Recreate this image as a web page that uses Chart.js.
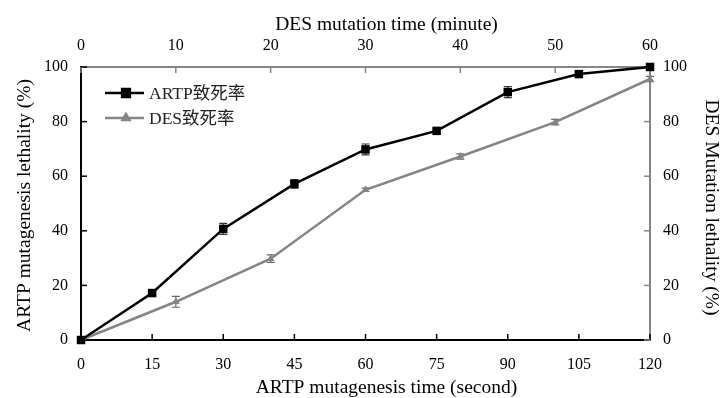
<!DOCTYPE html>
<html>
<head>
<meta charset="utf-8">
<script src="https://cdn.jsdelivr.net/npm/chart.js@4.4.1/dist/chart.umd.min.js"></script>
<style>
  body { margin: 0; background: #fff; }
  #wrap { width: 722px; height: 398px; }
</style>
</head>
<body>
<div id="wrap"><canvas id="lethalityChart"></canvas></div>
<script>
// ARTP: bottom axis (seconds), left axis
const artpTimes = [0, 15, 30, 45, 60, 75, 90, 105, 120];
const artpLethality = [0, 17.2, 40.7, 57.2, 69.8, 76.6, 90.8, 97.4, 100];
const artpError = [0, 0.8, 2, 1.6, 2, 0.6, 2, 1, 0.5];

// DES: top axis (minutes), right axis
const desTimes = [0, 10, 20, 30, 40, 50, 60];
const desLethality = [0, 14, 29.8, 55, 67.2, 79.8, 95.6];
const desError = [0, 2, 1.4, 0.6, 1, 1, 1];

const artpLabel = 'ARTP致死率';
const desLabel = 'DES致死率';
const bottomTitle = 'ARTP mutagenesis time (second)';
const topTitle = 'DES mutation time (minute)';
const leftTitle = 'ARTP mutagenesis lethality (%)';
const rightTitle = 'DES Mutation lethality (%)';

const BLACK = '#000000';
const GREY = '#858585';
const FONT = '"Liberation Serif", "Times New Roman", "Noto Sans CJK SC", serif';

// error bars, inward tick marks, axis titles and the legend
const extrasPlugin = {
  id: 'extras',
  beforeDatasetsDraw(chart) {
    const ctx = chart.ctx;
    const bars = [
      { x: chart.scales.x, y: chart.scales.y, t: artpTimes, v: artpLethality, e: artpError, c: '#333333' },
      { x: chart.scales.x2, y: chart.scales.y2, t: desTimes, v: desLethality, e: desError, c: '#666666' }
    ];
    ctx.save();
    ctx.lineWidth = 1.2;
    bars.forEach(s => {
      ctx.strokeStyle = s.c;
      s.t.forEach((t, i) => {
        if (!s.e[i]) return;
        const px = s.x.getPixelForValue(t);
        const top = s.y.getPixelForValue(s.v[i] + s.e[i]);
        const bot = s.y.getPixelForValue(s.v[i] - s.e[i]);
        ctx.beginPath();
        ctx.moveTo(px, top); ctx.lineTo(px, bot);
        ctx.moveTo(px - 4, top); ctx.lineTo(px + 4, top);
        ctx.moveTo(px - 4, bot); ctx.lineTo(px + 4, bot);
        ctx.stroke();
      });
    });

    // tick marks pointing into the plot
    const a = chart.chartArea;
    const len = 6;
    ctx.lineWidth = 1.5;
    const sx = chart.scales.x, sx2 = chart.scales.x2, sy = chart.scales.y, sy2 = chart.scales.y2;
    ctx.strokeStyle = BLACK;
    sx.ticks.forEach((tk, i) => {
      const p = sx.getPixelForTick(i);
      ctx.beginPath(); ctx.moveTo(p, a.bottom); ctx.lineTo(p, a.bottom - len); ctx.stroke();
    });
    sy.ticks.forEach((tk, i) => {
      const p = sy.getPixelForTick(i);
      ctx.beginPath(); ctx.moveTo(a.left, p); ctx.lineTo(a.left + len, p); ctx.stroke();
    });
    ctx.strokeStyle = GREY;
    sx2.ticks.forEach((tk, i) => {
      const p = sx2.getPixelForTick(i);
      ctx.beginPath(); ctx.moveTo(p, a.top); ctx.lineTo(p, a.top + len); ctx.stroke();
    });
    sy2.ticks.forEach((tk, i) => {
      const p = sy2.getPixelForTick(i);
      ctx.beginPath(); ctx.moveTo(a.right, p); ctx.lineTo(a.right - len, p); ctx.stroke();
    });
    ctx.restore();
  },
  afterDraw(chart) {
    const ctx = chart.ctx;
    const a = chart.chartArea;
    const cx = (a.left + a.right) / 2 + 21;
    const cy = (a.top + a.bottom) / 2 + 2;

    ctx.save();
    ctx.fillStyle = BLACK;
    ctx.textAlign = 'center';
    ctx.textBaseline = 'alphabetic';
    ctx.font = '19.5px ' + FONT;
    ctx.fillText(topTitle, cx, 30);
    ctx.fillText(bottomTitle, cx, 393);

    ctx.save();
    ctx.translate(30, cy);
    ctx.rotate(-Math.PI / 2);
    ctx.fillText(leftTitle, 0, 0);
    ctx.restore();
    ctx.save();
    ctx.translate(706, cy + 2);
    ctx.rotate(Math.PI / 2);
    ctx.fillText(rightTitle, 0, 0);
    ctx.restore();

    const items = [
      { label: artpLabel, color: BLACK, style: 'rect', r: 5.5, y: 93 },
      { label: desLabel, color: GREY, style: 'triangle', r: 4, y: 118 }
    ];
    items.forEach(it => {
      ctx.strokeStyle = it.color;
      ctx.lineWidth = 2.5;
      ctx.beginPath(); ctx.moveTo(105, it.y); ctx.lineTo(144, it.y); ctx.stroke();
      ctx.fillStyle = it.color;
      Chart.helpers.drawPoint(ctx, { pointStyle: it.style, radius: it.r, borderWidth: 1 }, 126, it.y);
      ctx.fill();
      ctx.fillStyle = '#222';
      ctx.font = '17.5px ' + FONT;
      ctx.textAlign = 'left';
      ctx.textBaseline = 'middle';
      ctx.fillText(it.label, 149, it.y + 1);
    });
    ctx.restore();
  }
};

const tickFont = { family: FONT, size: 16 };

new Chart(document.getElementById('lethalityChart'), {
  type: 'line',
  data: {
    datasets: [
      {
        label: artpLabel,
        data: artpTimes.map((t, i) => ({ x: t, y: artpLethality[i] })),
        xAxisID: 'x', yAxisID: 'y',
        borderColor: BLACK, backgroundColor: BLACK,
        borderWidth: 2.5, pointStyle: 'rect', pointRadius: 6,
        pointBorderWidth: 0, tension: 0, clip: false
      },
      {
        label: desLabel,
        data: desTimes.map((t, i) => ({ x: t, y: desLethality[i] })),
        xAxisID: 'x2', yAxisID: 'y2',
        borderColor: GREY, backgroundColor: GREY,
        borderWidth: 2.5, pointStyle: 'triangle', pointRadius: 4.5,
        pointBorderWidth: 0, tension: 0, clip: false
      }
    ]
  },
  options: {
    responsive: true,
    maintainAspectRatio: false,
    animation: false,
    layout: { padding: 0 },
    plugins: { legend: { display: false }, tooltip: { enabled: false } },
    scales: {
      x: {
        type: 'linear', position: 'bottom', min: 0, max: 120,
        ticks: { stepSize: 15, color: BLACK, font: tickFont, padding: 15, maxRotation: 0 },
        grid: { drawOnChartArea: false, drawTicks: false },
        border: { color: BLACK, width: 2 },
        afterFit(s) { s.height = 58; }
      },
      x2: {
        type: 'linear', position: 'top', min: 0, max: 60,
        ticks: { stepSize: 10, color: BLACK, font: tickFont, padding: 12, maxRotation: 0 },
        grid: { drawOnChartArea: false, drawTicks: false },
        border: { color: GREY, width: 2 },
        afterFit(s) { s.height = 67; }
      },
      y: {
        type: 'linear', position: 'left', min: 0, max: 100,
        ticks: { stepSize: 20, color: BLACK, font: tickFont, padding: 13 },
        grid: { drawOnChartArea: false, drawTicks: false },
        border: { color: BLACK, width: 2 },
        afterFit(s) { s.width = 81; }
      },
      y2: {
        type: 'linear', position: 'right', min: 0, max: 100,
        ticks: { stepSize: 20, color: BLACK, font: tickFont, padding: 13 },
        grid: { drawOnChartArea: false, drawTicks: false },
        border: { color: GREY, width: 2 },
        afterFit(s) { s.width = 72; }
      }
    }
  },
  plugins: [extrasPlugin]
});
</script>
</body>
</html>
